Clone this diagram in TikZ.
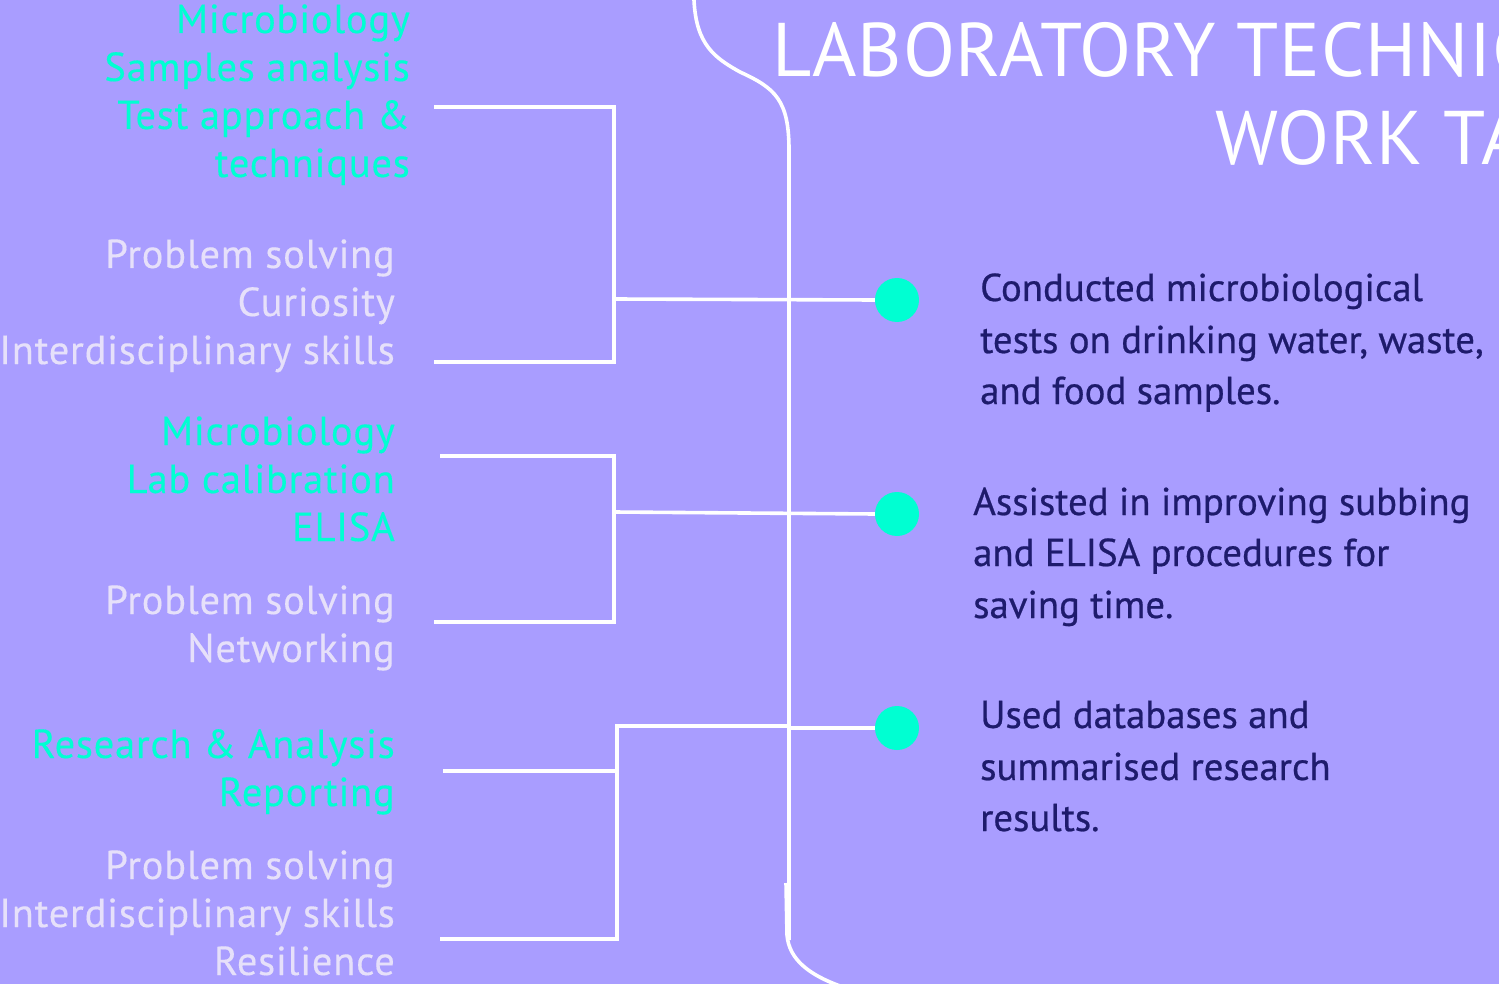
\documentclass[tikz,border=0pt]{standalone}
\usepackage{fontspec}
\setmainfont{PT Sans}
\newfontfamily\leftfont[LetterSpace=1.9,FakeBold=0.3]{PT Sans}
\newfontfamily\taskfont[FakeBold=0.6]{PT Sans}
\newfontfamily\titlefont[LetterSpace=1]{PT Sans}
\definecolor{bg}{HTML}{A99DFF}
\definecolor{teal}{HTML}{00FFD2}
\definecolor{pale}{HTML}{E6E0FA}
\definecolor{navy}{HTML}{1E1B6C}
\tikzset{
  line/.style={draw=white, line width=3.6pt},
  skillA/.style={text=teal, inner sep=0pt, anchor=base east, font=\leftfont\fontsize{40.5}{48}\selectfont},
  skillB/.style={text=pale, inner sep=0pt, anchor=base east, font=\leftfont\fontsize{40.5}{48}\selectfont},
  task/.style={text=navy, inner sep=0pt, anchor=base west, font=\taskfont\fontsize{38.8}{52}\selectfont},
  ttl/.style={text=white, inner sep=0pt, font=\titlefont\fontsize{76}{88}\selectfont},
  dot/.style={circle, fill=teal, minimum size=44pt, inner sep=0pt},
}
\begin{document}
\begin{tikzpicture}[x=1pt,y=-1pt]
\useasboundingbox (0,0) rectangle (1499,984);
\fill[bg] (0,0) rectangle (1499,984);
\begin{scope}
\clip (0,0) rectangle (1499,984);
% title
\node[ttl, anchor=base west] (t1) at (772,77) {LABORATORY TECHNICIAN};
\node[ttl, anchor=base east] (t2) at (t1.base east |- 0,165) {WORK TASKS};
% brace line
\draw[line] (694,0) .. controls (696,45) and (715,58) .. (740,72)
  .. controls (775,88) and (789,100) .. (789,150) -- (789,940);
\draw[line] (786,883) -- (787,935) .. controls (789,960) and (810,975) .. (840,986);
\end{scope}
% dots
\node[dot] (d1) at (897,300) {};
\node[dot] (d2) at (897,514) {};
\node[dot] (d3) at (897,728) {};
% bracket 1
\coordinate (a1t) at (434,107); \coordinate (a1tr) at (614,107);
\coordinate (a1b) at (434,362); \coordinate (a1br) at (614,362);
\coordinate (a1m) at (614,299);
\draw[line] (a1t) -- (a1tr) -- (a1br) -- (a1b);
\draw[line] (a1m) -- (d1.west);
% bracket 2
\coordinate (a2t) at (440,456); \coordinate (a2tr) at (614,456);
\coordinate (a2b) at (434,622); \coordinate (a2br) at (614,622);
\coordinate (a2m) at (614,512);
\draw[line] (a2t) -- (a2tr) -- (a2br) -- (a2b);
\draw[line] (a2m) -- (d2.west);
% bracket 3
\coordinate (a3t) at (443,771); \coordinate (a3tr) at (617,771);
\coordinate (a3b) at (440,939); \coordinate (a3br) at (617,939);
\coordinate (a3m) at (617,726);
\draw[line] (a3t) -- (a3tr);
\draw[line] (a3b) -- (a3br) -- (a3m) -- (789,726);
\draw[line] (789,728) -- (d3.west);
% left texts group 1
\node[skillA] (s11) at (410,33) {Microbiology};
\node[skillA] (s12) at (410,81) {Samples analysis};
\node[skillA] (s13) at (410,129) {Test approach \&};
\node[skillA] (s14) at (410,177) {techniques};
\node[skillB] (p11) at (395,268) {Problem solving};
\node[skillB] (p12) at (395,316) {Curiosity};
\node[skillB] (p13) at (395,364) {Interdisciplinary skills};
% group 2
\node[skillA] (s21) at (395,445) {Microbiology};
\node[skillA] (s22) at (395,493) {Lab calibration};
\node[skillA] (s23) at (395,541) {ELISA};
\node[skillB] (p21) at (395,614) {Problem solving};
\node[skillB] (p22) at (395,662) {Networking};
% group 3
\node[skillA] (s31) at (395,758) {Research \& Analysis};
\node[skillA] (s32) at (395,806) {Reporting};
\node[skillB] (p31) at (395,879) {Problem solving};
\node[skillB] (p32) at (395,927) {Interdisciplinary skills};
\node[skillB] (p33) at (395,975) {Resilience};
% right texts
\node[task] (r11) at (980,301) {Conducted microbiological};
\node[task] (r12) at (980,353) {tests on drinking water, waste,};
\node[task] (r13) at (980,404) {and food samples.};
\node[task] (r21) at (973,515) {Assisted in improving subbing};
\node[task] (r22) at (973,566) {and ELISA procedures for};
\node[task] (r23) at (973,618) {saving time.};
\node[task] (r31) at (980,728) {Used databases and};
\node[task] (r32) at (980,780) {summarised research};
\node[task] (r33) at (980,831) {results.};
\end{tikzpicture}
\end{document}
